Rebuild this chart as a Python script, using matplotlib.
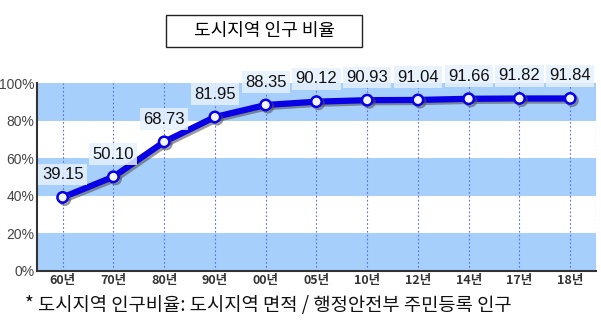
import matplotlib.pyplot as plt
import matplotlib.patheffects as pe
from matplotlib.patches import Rectangle

plt.rcParams['font.family'] = ['Noto Sans CJK KR', 'DejaVu Sans']

years = ['60년', '70년', '80년', '90년', '00년', '05년', '10년', '12년', '14년', '17년', '18년']
ratio = [39.15, 50.10, 68.73, 81.95, 88.35, 90.12, 90.93, 91.04, 91.66, 91.82, 91.84]
y_ticks = [0, 20, 40, 60, 80, 100]

BAND = '#a6d0fb'
LINE = '#0a00e6'

fig = plt.figure(figsize=(6.01, 3.26), dpi=100)
ax = fig.add_axes([0.062, 0.169, 0.929, 0.576])

xs = list(range(len(years)))
ax.set_xlim(-0.5, len(years) - 0.5)
ax.set_ylim(0, 100)

# alternating horizontal bands
for lo in (0, 40, 80):
    ax.axhspan(lo, lo + 20, color=BAND, lw=0, zorder=0)

# dotted verticals at each category and at the right edge
for x in xs + [len(years) - 0.5]:
    ax.axvline(x, color='#5a6cf0', lw=0.8, ls=(0, (1.5, 2)), zorder=1)

ax.plot(xs, ratio, color=LINE, lw=4.5, marker='o', ms=7.5,
        mfc='#f2f6ff', mec=LINE, mew=1.8, zorder=4,
        path_effects=[pe.SimpleLineShadow(offset=(1.5, -1.5), shadow_color='#555555', alpha=0.6),
                      pe.Normal()])

for x, v in zip(xs, ratio):
    ax.annotate(f'{v:.2f}', (x, v), xytext=(0, 11), textcoords='offset points',
                ha='center', va='bottom', fontsize=12, color='#111111',
                family=['Liberation Sans', 'DejaVu Sans'],
                bbox=dict(boxstyle='square,pad=0.2', fc='#e6f1fd', ec='none', alpha=0.85),
                zorder=5)

ax.set_xticks(xs)
ax.set_xticklabels(years, fontsize=9, fontweight='bold', color='#333333')
ax.set_yticks(y_ticks)
ax.set_yticklabels([f'{t}%' for t in y_ticks], fontsize=10, color='#444444',
                   family=['Liberation Sans', 'DejaVu Sans'])
ax.tick_params(length=0, pad=2)

for s in ('top', 'right'):
    ax.spines[s].set_visible(False)
ax.spines['left'].set_color('#333333')
ax.spines['left'].set_linewidth(1.5)
ax.spines['bottom'].set_color('#333333')
ax.spines['bottom'].set_linewidth(1.5)

# boxed title
fig.patches.append(Rectangle((166 / 601, 1 - 47 / 326), 196 / 601, 32 / 326,
                             transform=fig.transFigure, fc='white', ec='#222222', lw=1))
fig.text(264 / 601, 1 - 31 / 326, '도시지역 인구 비율', ha='center', va='center', fontsize=13)

fig.text(25 / 601, 1 - 306 / 326, '* 도시지역 인구비율: 도시지역 면적 / 행정안전부 주민등록 인구',
         ha='left', va='center', fontsize=13.5, color='#111111')

fig.savefig('out.png', dpi=100)
